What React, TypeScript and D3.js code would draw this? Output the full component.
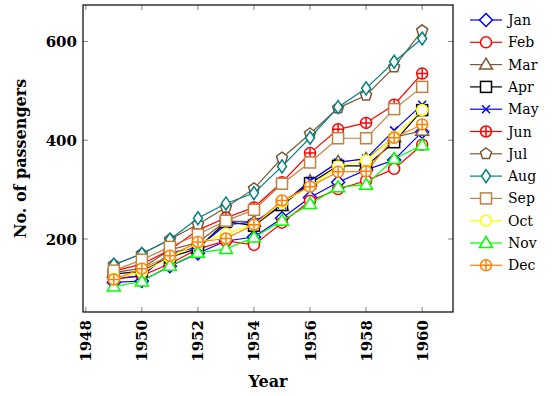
import React from "react";
import * as d3 from "d3";

const years = [1949, 1950, 1951, 1952, 1953, 1954, 1955, 1956, 1957, 1958, 1959, 1960];
const months = ["Jan", "Feb", "Mar", "Apr", "May", "Jun", "Jul", "Aug", "Sep", "Oct", "Nov", "Dec"];

const jan = [112, 115, 145, 171, 196, 204, 242, 284, 315, 340, 360, 417];
const feb = [118, 126, 150, 180, 196, 188, 233, 277, 301, 318, 342, 391];
const mar = [132, 141, 178, 193, 236, 235, 267, 317, 356, 362, 406, 419];
const apr = [129, 135, 163, 181, 235, 227, 269, 313, 348, 348, 396, 461];
const may = [121, 125, 172, 183, 229, 234, 270, 318, 355, 363, 420, 472];
const jun = [135, 149, 178, 218, 243, 264, 315, 374, 422, 435, 472, 535];
const jul = [148, 170, 199, 230, 264, 302, 364, 413, 465, 491, 548, 622];
const aug = [148, 170, 199, 242, 272, 293, 347, 405, 467, 505, 559, 606];
const sep = [136, 158, 184, 209, 237, 259, 312, 355, 404, 404, 463, 508];
const oct = [119, 133, 162, 191, 211, 229, 274, 306, 347, 359, 407, 461];
const nov = [104, 114, 146, 172, 180, 203, 237, 271, 305, 310, 362, 390];
const dec = [118, 140, 166, 194, 201, 229, 278, 306, 336, 337, 405, 432];

const xTicks = [1948, 1950, 1952, 1954, 1956, 1958, 1960];
const yTicks = [200, 400, 600];

const series = [
  { name: months[0], values: jan, color: "#0000ff", mark: "diamond" },
  { name: months[1], values: feb, color: "#ff0000", mark: "circle" },
  { name: months[2], values: mar, color: "#7a5a36", mark: "triangle" },
  { name: months[3], values: apr, color: "#000000", mark: "square" },
  { name: months[4], values: may, color: "#0000ff", mark: "x" },
  { name: months[5], values: jun, color: "#ff0000", mark: "oplus" },
  { name: months[6], values: jul, color: "#7a5a36", mark: "pentagon" },
  { name: months[7], values: aug, color: "#008080", mark: "diamondSmall" },
  { name: months[8], values: sep, color: "#bf8040", mark: "square" },
  { name: months[9], values: oct, color: "#ffff00", mark: "circle" },
  { name: months[10], values: nov, color: "#00ff00", mark: "triangle" },
  { name: months[11], values: dec, color: "#ff8000", mark: "oplus" },
];

const font = "'DejaVu Serif', serif";

function Marker({ kind, x, y, color }) {
  const common = { fill: "white", stroke: color, strokeWidth: 1.5 };
  if (kind === "diamond")
    return <path d={`M${x},${y - 6.5}L${x + 6.5},${y}L${x},${y + 6.5}L${x - 6.5},${y}Z`} {...common} />;
  if (kind === "diamondSmall")
    return <path d={`M${x},${y - 6.5}L${x + 4.5},${y}L${x},${y + 6.5}L${x - 4.5},${y}Z`} {...common} />;
  if (kind === "circle") return <circle cx={x} cy={y} r={5.5} {...common} />;
  if (kind === "triangle")
    return <path d={`M${x},${y - 6.5}L${x + 6.5},${y + 4.5}L${x - 6.5},${y + 4.5}Z`} {...common} />;
  if (kind === "square") return <rect x={x - 5.5} y={y - 5.5} width={11} height={11} {...common} />;
  if (kind === "x")
    return (
      <path d={`M${x - 4},${y - 4}L${x + 4},${y + 4}M${x - 4},${y + 4}L${x + 4},${y - 4}`} stroke={color} strokeWidth={1.5} />
    );
  if (kind === "oplus")
    return (
      <g>
        <circle cx={x} cy={y} r={5.5} {...common} />
        <path d={`M${x - 5.5},${y}L${x + 5.5},${y}M${x},${y - 5.5}L${x},${y + 5.5}`} stroke={color} strokeWidth={1.5} />
      </g>
    );
  if (kind === "pentagon") {
    const pts = d3.range(5).map((i) => {
      const a = -Math.PI / 2 + (i * 2 * Math.PI) / 5;
      return [x + 5.8 * Math.cos(a), y + 5.8 * Math.sin(a)];
    });
    return <path d={"M" + pts.map((p) => p.join(",")).join("L") + "Z"} {...common} />;
  }
  return null;
}

export default function App() {
  const width = 554,
    height = 396;
  const left = 83,
    right = 453,
    top = 5,
    bottom = 312;

  const x = d3.scaleLinear().domain([1947.9, 1961.1]).range([left, right]);
  const y = d3.scaleLinear().domain([52.2, 673.8]).range([bottom, top]);

  const line = d3
    .line<number>()
    .x((_, i) => x(years[i]))
    .y((d) => y(d));

  return (
    <svg width={width} height={height} style={{ position: "absolute", left: 0, top: 0 }}>
      <rect x={0} y={0} width={width} height={height} fill="white" />
      {xTicks.map((t) => (
        <g key={t}>
          <line x1={x(t)} x2={x(t)} y1={bottom} y2={bottom - 5} stroke="#808080" />
          <line x1={x(t)} x2={x(t)} y1={top} y2={top + 5} stroke="#808080" />
          <text
            transform={`translate(${x(t) + 5.5},${bottom + 8}) rotate(-90)`}
            textAnchor="end"
            fontFamily={font}
            fontWeight="bold"
            fontSize={15}
          >
            {t}
          </text>
        </g>
      ))}
      {yTicks.map((t) => (
        <g key={t}>
          <line x1={left} x2={left + 5} y1={y(t)} y2={y(t)} stroke="#808080" />
          <line x1={right} x2={right - 5} y1={y(t)} y2={y(t)} stroke="#808080" />
          <text x={left - 6} y={y(t) + 5.5} textAnchor="end" fontFamily={font} fontWeight="bold" fontSize={15}>
            {t}
          </text>
        </g>
      ))}
      {series.map((s) => (
        <g key={s.name}>
          <path d={line(s.values) || ""} fill="none" stroke={s.color} strokeWidth={1.2} />
          {s.values.map((v, i) => (
            <Marker key={i} kind={s.mark} x={x(years[i])} y={y(v)} color={s.color} />
          ))}
        </g>
      ))}
      <rect x={left} y={top} width={right - left} height={bottom - top} fill="none" stroke="black" strokeWidth={1.2} />
      <text x={(left + right) / 2} y={387} textAnchor="middle" fontFamily={font} fontWeight="bold" fontSize={16}>
        Year
      </text>
      <text
        transform={`translate(26,${(top + bottom) / 2}) rotate(-90)`}
        textAnchor="middle"
        fontFamily={font}
        fontWeight="bold"
        fontSize={16}
      >
        No. of passengers
      </text>
      {series.map((s, i) => {
        const ly = 20 + i * 22.3;
        return (
          <g key={s.name}>
            <line x1={470} x2={502} y1={ly} y2={ly} stroke={s.color} strokeWidth={1.2} />
            <Marker kind={s.mark} x={486} y={ly} color={s.color} />
            <text x={508} y={ly + 5} fontFamily={font} fontSize={14}>
              {s.name}
            </text>
          </g>
        );
      })}
    </svg>
  );
}
